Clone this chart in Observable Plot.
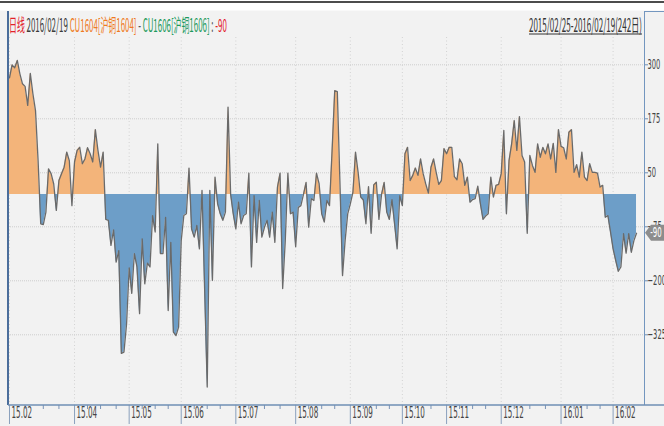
<!DOCTYPE html>
<html><head><meta charset="utf-8">
<script src="https://cdn.jsdelivr.net/npm/d3@7"></script>
<script src="https://cdn.jsdelivr.net/npm/@observablehq/plot@0.6"></script>
<style>
html,body{margin:0;padding:0;background:#f2f2f2;}
#wrap{position:relative;width:664px;height:426px;overflow:hidden;background:#f2f2f2;}
</style></head>
<body><div id="wrap"></div>
<script>
// CU1604 - CU1606 daily spread, 2015/02/25 - 2016/02/19 (242 trading days)
const spread = [
270,300,293,310,279,256,250,206,280,233,
194,78,-68,-70,-41,59,48,24,-37,32,
48,63,98,78,-26,75,102,109,71,82,
108,94,75,150,102,63,98,-58,-60,-118,
-82,-157,-130,-368,-365,-300,-170,-229,-137,-168,
-276,-103,-207,-159,-168,-49,-87,117,-137,-137,
-53,-269,-111,-319,-327,-307,-107,-49,-45,61,
-80,-99,-72,-126,9,-218,-446,9,-199,40,
-22,-45,-60,-41,202,0,-45,-80,-18,-68,
-49,-45,49,-168,-3,-111,-14,-99,-76,-60,
-99,-41,-111,17,49,-218,-107,49,-45,-41,
-121,-30,-26,0,28,-76,-10,-14,49,25,
-45,-64,-14,-26,102,240,238,30,-188,-107,
-45,-22,5,98,51,-6,-13,-68,18,-90,
22,28,-58,0,28,-41,-58,-12,-68,-126,
-3,-26,94,109,32,44,61,44,82,48,
24,3,63,82,51,23,32,106,94,109,
109,41,34,82,71,21,40,-18,-12,-10,
19,-22,-58,-50,-45,40,-6,21,23,48,
148,-45,78,117,171,102,180,90,75,-90,
90,67,51,117,86,109,94,117,82,118,
51,150,111,108,82,144,150,51,69,40,
98,40,32,71,51,51,49,17,21,-53,
-49,-87,-126,-153,-178,-168,-91,-136,-91,-134,
-107,-90
];
// trading-day index of each month start, and its label
const monthTicks  = [0,25,46,66,87,110,131,151,168,189,212,232];
const monthLabels = ["15.02","15.04","15.05","15.06","15.07","15.08","15.09","15.10","15.11","15.12","16.01","16.02"];
const minorTicks  = [6,13,19,30,35,41,51,56,61,71,76,81,92,98,104,115,120,125,136,141,146,156,162,173,178,183,194,200,206,217,222,227,237];
const yTicks = [300,175,50,-75,-200,-325];
const headerLeft = [["日线","#e3202b"],[" 2016/02/19 ","#3a3a3a"],["CU1604[沪铜1604]","#ef7a22"],[" - ","#555"],["CU1606[沪铜1606]","#1d9a5c"],[" : ","#555"],["-90","#e3202b"]];
const headerRight = "2015/02/25-2016/02/19(242日)";

const W = 664, H = 426;
const data = spread.map((v, i) => ({day: i, v}));

const plot = Plot.plot({
  width: W, height: H,
  marginTop: 37, marginBottom: 21, marginLeft: 8, marginRight: 20,
  style: {background: "#f2f2f2", fontFamily: "'DejaVu Sans', sans-serif", overflow: "visible"},
  x: {domain: [-0.38, 244.07], axis: null},
  y: {domain: [-488.7, 363.2], axis: null},
  marks: [
    Plot.ruleY(yTicks, {stroke: "#cdcdcd", strokeDasharray: "1,1"}),
    Plot.ruleX(monthTicks, {stroke: "#d2d2d2", strokeDasharray: "1,2.5"}),
    Plot.areaY(data, {x: "day", y1: 0, y2: "v", fill: "#f3b47a"}),
    Plot.areaY(data, {x: "day", y1: 0, y2: "v", fill: "#6d9ec8"}),
    Plot.lineY(data, {x: "day", y: "v", stroke: "#6a6a6a", strokeWidth: 1.3}),
    Plot.axisY(yTicks, {anchor: "right", tickSize: 3, tickPadding: 0, fontSize: 14, stroke: "#6f8fb5", fill: "#444", label: null}),
    Plot.axisX(minorTicks, {anchor: "bottom", tickSize: 4, tickFormat: () => "", stroke: "#7a93b5", label: null}),
    Plot.axisX(monthTicks, {anchor: "bottom", tickSize: 19, tickFormat: () => "", stroke: "#8aa0bd", label: null}),
    Plot.text(monthTicks, {x: d => d, text: (d, i) => monthLabels[i], frameAnchor: "bottom", textAnchor: "start", dx: 2, dy: 12, fontSize: 15, fill: "#444"})
  ]
});

document.getElementById("wrap").appendChild(plot);
const ns = "http://www.w3.org/2000/svg";
function el(name, attrs, parent) {
  const e = document.createElementNS(ns, name);
  for (const k in attrs) e.setAttribute(k, attrs[k]);
  (parent || plot).appendChild(e);
  return e;
}
// condense tick labels horizontally about their anchor point
plot.querySelectorAll("text").forEach(t => {
  if (!t.textContent) return;
  const ax = parseFloat(t.getAttribute("x")) || 0;
  const ay = parseFloat(t.getAttribute("y")) || 0;
  const prev = t.getAttribute("transform") || "";
  t.setAttribute("transform", `${prev} translate(${ax},${ay}) scale(0.48,1) translate(${-ax},${-ay})`);
});

// two-colour fill split at zero
const y = plot.scale("y");
const y0 = y.apply(0);
const defs = el("defs", {});
const cp = el("clipPath", {id: "cpPos"}, defs); el("rect", {x: 0, y: 0, width: W, height: y0}, cp);
const cn = el("clipPath", {id: "cpNeg"}, defs); el("rect", {x: 0, y: y0, width: W, height: H - y0}, cn);
const areas = plot.querySelectorAll('g[aria-label="area"]');
areas[0].setAttribute("clip-path", "url(#cpPos)");
areas[1].setAttribute("clip-path", "url(#cpNeg)");

// frame decorations
const fL = 8, fR = W - 20, fB = H - 21;
el("rect", {x: 0, y: 0, width: W, height: 10.5, fill: "#ffffff"});
el("line", {x1: 0, x2: W, y1: 2, y2: 2, stroke: "#111", "stroke-width": 1.3});
el("line", {x1: fL, x2: fL, y1: 11, y2: fB, stroke: "#4a6d9b", "stroke-width": 2});
el("line", {x1: fR + 0.5, x2: fR + 0.5, y1: 11, y2: fB, stroke: "#7396bf", "stroke-width": 1});
el("line", {x1: fR, x2: W, y1: 11.5, y2: 11.5, stroke: "#7396bf", "stroke-width": 1});
el("line", {x1: fL, x2: W, y1: fB, y2: fB, stroke: "#6f8fb5", "stroke-width": 1.5});

// header (condensed via group scale)
function header(parts, xPos, anchor, targetW) {
  const g = el("g", {});
  const t = el("text", {x: 0, y: 0, "text-anchor": "start", "font-size": 18, "font-family": "'Noto Sans CJK SC', sans-serif"}, g);
  parts.forEach(([s, c]) => { const ts = el("tspan", {fill: c}, t); ts.textContent = s; });
  const L = t.getComputedTextLength();
  const sx = targetW / L;
  const left = anchor === "end" ? xPos - targetW : xPos;
  g.setAttribute("transform", `translate(${left},32) scale(${sx},1)`);
}
header(headerLeft, 9, "start", 218);
header([[headerRight, "#333"]], 642, "end", 113);
el("line", {x1: 529, x2: 642, y1: 34, y2: 34, stroke: "#333", "stroke-width": 1});

// last value marker
const last = spread[spread.length - 1];
const yv = y.apply(last);
el("path", {d: `M${fR + 1},${yv} L${fR + 7},${yv - 8} L${W},${yv - 8} L${W},${yv + 8} L${fR + 7},${yv + 8} Z`, fill: "#8d8d8d"});
const mg = el("g", {transform: `translate(656,${yv}) scale(0.5,1)`});
const mt = el("text", {x: 0, y: 0, "text-anchor": "middle", "dominant-baseline": "central", "font-size": 14, fill: "#fff", "font-family": "'DejaVu Sans', sans-serif"}, mg);
mt.textContent = String(last);
</script>
</body></html>
